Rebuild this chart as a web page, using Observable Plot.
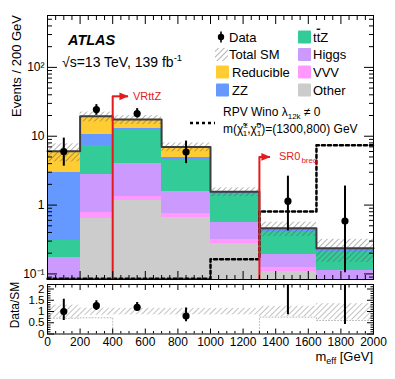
<!DOCTYPE html>
<html><head><meta charset="utf-8">
<script src="https://cdn.jsdelivr.net/npm/d3@7"></script>
<script src="https://cdn.jsdelivr.net/npm/@observablehq/plot@0.6"></script>
<style>
body{margin:0;background:#fff;}
#chart{width:395px;height:379px;font-family:"Liberation Sans",Arial,Helvetica,sans-serif;}
#chart svg{display:block;}
</style></head><body><div id="chart"></div>
<script>
// ---------------- data ----------------
const binEdges = [0, 200, 400, 700, 1000, 1300, 1650, 2000];
const bkgOther     = [0, 0.633, 1.17, 0.67, 0.275, 0.107, 0];
const bkgVVV       = [0, 0.157, 0.18, 0.08, 0.043, 0.017, 0];
const bkgHiggs     = [0.172, 2.0, 2.62, 0.85, 0.236, 0.069, 0.113];
const bkgTtZ       = [0.136, 4.6, 8.1, 2.85, 0.876, 0.204, 0.091];
const bkgZZ        = [2.63, 3.2, 0.7, 0.4, 0.1, 0.053, 0.028];
const bkgReducible = [3.12, 8.9, 4.7, 2.15, 0.03, 0.01, 0.004];
const bandLo = [0.70, 0.83, 0.85, 0.85, 0.85, 0.76, 0.62];
const bandHi = [1.28, 1.15, 1.14, 1.14, 1.14, 1.23, 1.35];
const signal = [0.085, 0.085, 0.085, 0.085, 0.163, 0.81, 7.4];
const dataX  = [100, 300, 550, 850, 1475, 1825];
const dataY  = [6.0, 24.4, 21.3, 5.9, 1.14, 0.586];
const dataLo = [3.67, 20.2, 18.4, 4.0, 0.42, 0.104];
const dataHi = [9.4, 28.8, 25.2, 8.5, 2.63, 1.89];
const ratioY  = [1.0, 1.26, 1.19, 0.8, 2.5, 2.48];
const ratioLo = [0.6, 1.04, 1.0, 0.55, 0.86, 0.42];
const ratioHi = [1.55, 1.48, 1.4, 1.16, 5.7, 8.0];
const ratioGuide = [0.70, 0.72, 0, 0, 0, 0.75, 0.6];
const cutX   = [400, 1300];
const cutY   = [38, 5.0];
const cutTip = [497, 1368];
const xTickValues = [0, 200, 400, 600, 800, 1000, 1200, 1400, 1600, 1800, 2000];
const yMainTicks = [0.1, 1, 10, 100];
const yMainLabels = ["10\u207B\u00B9", "1", "10", "10\u00B2"];
const yRatioTicks = [0, 0.5, 1, 1.5, 2];
const yRatioLabels = ["0", "0.5", "1", "1.5", "2"];

const layerNames  = ["Other", "VVV", "Higgs", "ttZ", "ZZ", "Reducible"];
const layerValues = [bkgOther, bkgVVV, bkgHiggs, bkgTtZ, bkgZZ, bkgReducible];
const layerColors = ["#cccccc", "#ff99ff", "#cc99ff", "#33cc99", "#6699ff", "#ffcc33"];
const red = "#e41a1c";
const yMin = 0.083, yMax = 567;

// ---------------- derived tables ----------------
const nb = binEdges.length - 1;
const stackRows = [];
const totals = [];
for (let i = 0; i < nb; i++) {
  let cum = 0;
  layerValues.forEach((vals, k) => {
    const lo = cum, hi = cum + vals[i];
    cum = hi;
    stackRows.push({x1: binEdges[i], x2: binEdges[i+1], y1: Math.max(lo, yMin), y2: Math.max(hi, yMin), color: layerColors[k]});
  });
  totals.push(cum);
}
const bins = d3.range(nb).map(i => ({x1: binEdges[i], x2: binEdges[i+1], total: totals[i], lo: bandLo[i], hi: bandHi[i]}));
const steps = arr => binEdges.map((e, i) => ({x: e, y: arr[Math.min(i, nb-1)]}));
const totalSteps = steps(totals);
const signalSteps = steps(signal);
const guideSteps = steps(ratioGuide);
const dataRows = dataX.map((x, i) => ({x, y: dataY[i], lo: dataLo[i], hi: dataHi[i], r: ratioY[i], rlo: ratioLo[i], rhi: ratioHi[i]}));
const cuts = cutX.map((x, i) => ({x, y: cutY[i], tip: cutTip[i]}));

const xMinor = d3.range(0, 2001, 50).filter(v => v % 200 !== 0);
const yMinorMain = [0.09];
[0.1, 1, 10, 100].forEach(d => { for (let k = 2; k <= 9; k++) { const v = d*k; if (v < yMax) yMinorMain.push(+v.toPrecision(3)); } });
const yMinorRatio = d3.range(0, 2.21, 0.1).map(v => +v.toFixed(1)).filter(v => !yRatioTicks.includes(v));

const arrowHead = {draw(ctx, size) { const r = Math.sqrt(size / Math.PI); const L = 2.6*r, H = 2.2*r; ctx.moveTo(0,0); ctx.lineTo(-L,-H/2); ctx.lineTo(-L,H/2); ctx.closePath(); }};

function tickMarks(scale, major, minor, majLen, minLen) {
  const axis = scale === "x" ? Plot.axisX : Plot.axisY;
  const anchors = scale === "x" ? ["bottom", "top"] : ["left", "right"];
  const out = [];
  anchors.forEach(a => {
    out.push(axis({anchor: a, ticks: major, tickSize: -majLen, tickFormat: () => "", label: null, stroke: "black"}));
    out.push(axis({anchor: a, ticks: minor, tickSize: -minLen, tickFormat: () => "", label: null, stroke: "black"}));
  });
  return out;
}

const font = "Liberation Sans, Arial, Helvetica, sans-serif";

// ---------------- main panel ----------------
const main = Plot.plot({
  width: 395, height: 280, marginTop: 15, marginBottom: 1, marginLeft: 47, marginRight: 22,
  style: {fontFamily: font, fontSize: "12px", background: "white", color: "black", overflow: "visible"},
  x: {domain: [0, 2000], axis: null},
  y: {type: "log", domain: [yMin, yMax], axis: null},
  color: {type: "identity"},
  marks: [
    Plot.rect(stackRows, {x1: "x1", x2: "x2", y1: "y1", y2: "y2", fill: "color", shapeRendering: "crispEdges"}),
    Plot.rect(bins, {x1: "x1", x2: "x2", y1: d => d.total*d.lo, y2: d => d.total*d.hi, fill: "url(#hatchMain)"}),
    Plot.line(totalSteps, {x: "x", y: "y", curve: "step-after", stroke: "#3d3d3d", strokeWidth: 2}),
    Plot.line(signalSteps, {x: "x", y: "y", curve: "step-after", stroke: "black", strokeWidth: 2.5, strokeDasharray: "3,3"}),
    Plot.ruleX(cuts, {x: "x", y1: d => yMin, y2: "y", stroke: red, strokeWidth: 2}),
    Plot.ruleY(cuts, {y: "y", x1: "x", x2: "tip", stroke: red, strokeWidth: 2}),
    Plot.dot(cuts, {x: "tip", y: "y", symbol: arrowHead, r: 3.5, fill: red, stroke: "none"}),
    Plot.ruleX(dataRows, {x: "x", y1: "lo", y2: "hi", stroke: "black", strokeWidth: 2}),
    Plot.dot(dataRows, {x: "x", y: "y", r: 3.6, fill: "black", stroke: "none"}),
    ...tickMarks("x", xTickValues, xMinor, 8, 4),
    ...tickMarks("y", yMainTicks, yMinorMain, 10, 5),
    Plot.axisY({anchor: "left", ticks: yMainTicks, tickSize: 0, tickPadding: 3, tickFormat: v => yMainLabels[yMainTicks.indexOf(v)], label: null, fontSize: 12}),
    Plot.frame({stroke: "black", strokeWidth: 1})
  ]
});

// ---------------- ratio panel ----------------
const ratio = Plot.plot({
  width: 395, height: 99, marginTop: 4, marginBottom: 45.5, marginLeft: 47, marginRight: 22,
  style: {fontFamily: font, fontSize: "12px", background: "white", color: "black", overflow: "visible"},
  x: {domain: [0, 2000], axis: null},
  y: {domain: [0, 2.2], axis: null},
  marks: [
    Plot.rect(bins, {x1: "x1", x2: "x2", y1: "lo", y2: "hi", fill: "url(#hatchRatio)"}),
    Plot.line(guideSteps, {x: "x", y: "y", curve: "step-after", stroke: "#bbbbbb", strokeWidth: 1, strokeDasharray: "1,2", clip: true}),
    Plot.ruleX(dataRows, {x: "x", y1: "rlo", y2: "rhi", stroke: "black", strokeWidth: 2, clip: true}),
    Plot.dot(dataRows, {x: "x", y: "r", r: 3.6, fill: "black", stroke: "none", clip: true}),
    ...tickMarks("x", xTickValues, xMinor, 5, 2.5),
    ...tickMarks("y", yRatioTicks, yMinorRatio, 7, 3.5),
    Plot.axisY({anchor: "left", ticks: yRatioTicks, tickSize: 0, tickPadding: 3, tickFormat: v => yRatioLabels[yRatioTicks.indexOf(v)], label: null, fontSize: 11.5}),
    Plot.axisX({anchor: "bottom", ticks: xTickValues, tickSize: 0, tickPadding: 3, tickFormat: d => String(d), label: null, fontSize: 12}),
    Plot.frame({stroke: "black", strokeWidth: 1})
  ]
});

const chart = document.getElementById("chart");
chart.appendChild(main);
chart.appendChild(ratio);

// ---------------- patterns ----------------
function addHatch(svg, id, color, width) {
  const defs = d3.select(svg).insert("defs", ":first-child");
  const p = defs.append("pattern").attr("id", id).attr("patternUnits", "userSpaceOnUse")
    .attr("width", 4).attr("height", 4).attr("patternTransform", "rotate(45)");
  p.append("line").attr("x1", 0).attr("y1", 0).attr("x2", 0).attr("y2", 4).attr("stroke", color).attr("stroke-width", width);
}
addHatch(main, "hatchMain", "#555", 0.9);
addHatch(ratio, "hatchRatio", "#777", 0.9);

// ---------------- annotations ----------------
const sx = main.scale("x"), sy = main.scale("y");
const g = d3.select(main).append("g").attr("font-family", font).attr("fill", "black").attr("text-anchor", "start");

g.append("text").attr("x", 68).attr("y", 45).attr("font-size", 14.5).attr("font-weight", "bold").attr("font-style", "italic").text("ATLAS");
const en = g.append("text").attr("x", 62).attr("y", 67).attr("font-size", 14);
en.append("tspan").text("\u221As=13 TeV, 139 fb");
en.append("tspan").attr("font-size", 9.5).attr("dy", -6).text("-1");

// y title
g.append("text").attr("transform", "translate(21,15) rotate(-90)").attr("text-anchor", "end").attr("font-size", 13).text("Events / 200 GeV");

// legend
const rowsY = [37, 54.5, 72, 90];
const lx1 = 216, lx2 = 298, sw = 13;
function swatch(x, y, fill) { g.append("rect").attr("x", x).attr("y", y - sw/2).attr("width", sw).attr("height", sw).attr("rx", 1).attr("fill", fill); }
function label(x, y, txt) { return g.append("text").attr("x", x).attr("y", y + 4.6).attr("font-size", 13).text(txt); }
// Data
g.append("line").attr("x1", lx1 + 5).attr("x2", lx1 + 5).attr("y1", rowsY[0] - 5.5).attr("y2", rowsY[0] + 5.5).attr("stroke", "black").attr("stroke-width", 1.6);
g.append("circle").attr("cx", lx1 + 5).attr("cy", rowsY[0]).attr("r", 3.2).attr("fill", "black");
label(lx1 + 13, rowsY[0], "Data");
swatch(lx1 - 1, rowsY[1], "url(#hatchMain)");
label(lx1 + 13, rowsY[1], "Total SM");
swatch(lx1, rowsY[2], layerColors[5]); label(lx1 + 16, rowsY[2], "Reducible");
swatch(lx1, rowsY[3], layerColors[4]); label(lx1 + 16, rowsY[3], "ZZ");
swatch(lx2, rowsY[0], layerColors[3]);
const ttz = g.append("text").attr("x", lx2 + 15).attr("y", rowsY[0] + 4.6).attr("font-size", 13);
ttz.append("tspan").text("t");
ttz.append("tspan").attr("text-decoration", "overline").text("t");
ttz.append("tspan").text("Z");
swatch(lx2, rowsY[1], layerColors[2]); label(lx2 + 15, rowsY[1], "Higgs");
swatch(lx2, rowsY[2], layerColors[1]); label(lx2 + 15, rowsY[2], "VVV");
swatch(lx2, rowsY[3], layerColors[0]); label(lx2 + 15, rowsY[3], "Other");

// signal legend
g.append("line").attr("x1", 190).attr("x2", 215).attr("y1", 123).attr("y2", 123).attr("stroke", "black").attr("stroke-width", 2.5).attr("stroke-dasharray", "3,3");
const s1 = g.append("text").attr("x", 223).attr("y", 116).attr("font-size", 12);
s1.append("tspan").text("RPV Wino \u03BB");
s1.append("tspan").attr("font-size", 8).attr("dy", 3).text("12k");
s1.append("tspan").attr("dy", -3).text(" \u2260 0");
const s2 = g.append("text").attr("x", 223).attr("y", 133).attr("font-size", 12);
s2.append("tspan").text("m(\u03C7\u0303");
s2.append("tspan").attr("font-size", 8).attr("dy", -5).text("\u00B1");
s2.append("tspan").attr("font-size", 8).attr("dx", -5).attr("dy", 8).text("1");
s2.append("tspan").attr("dy", -3).text(",\u03C7\u0303");
s2.append("tspan").attr("font-size", 8).attr("dy", -5).text("0");
s2.append("tspan").attr("font-size", 8).attr("dx", -4.5).attr("dy", 8).text("1");
s2.append("tspan").attr("dy", -3).text(")=(1300,800) GeV");

// cut labels
g.append("text").attr("x", sx.apply(cutTip[0]) + 5).attr("y", sy.apply(cutY[0]) + 4).attr("font-size", 11).attr("fill", red).text("VRttZ");
const sr = g.append("text").attr("x", sx.apply(cutTip[1]) + 9).attr("y", sy.apply(cutY[1]) + 4).attr("font-size", 11).attr("fill", red);
sr.append("tspan").text("SR0");
sr.append("tspan").attr("font-size", 8).attr("dx", 1).attr("dy", 3).text("breq");

// ratio annotations
const gr = d3.select(ratio).append("g").attr("font-family", font).attr("fill", "black").attr("text-anchor", "start");
gr.append("text").attr("transform", "translate(19,25) rotate(-90)").attr("text-anchor", "middle").attr("font-size", 12).text("Data/SM");
const xt = gr.append("text").attr("x", 373).attr("y", 81).attr("text-anchor", "end").attr("font-size", 13);
xt.append("tspan").text("m");
xt.append("tspan").attr("font-size", 9).attr("dy", 3).text("eff");
xt.append("tspan").attr("dy", -3).text(" [GeV]");
</script>
</body></html>
